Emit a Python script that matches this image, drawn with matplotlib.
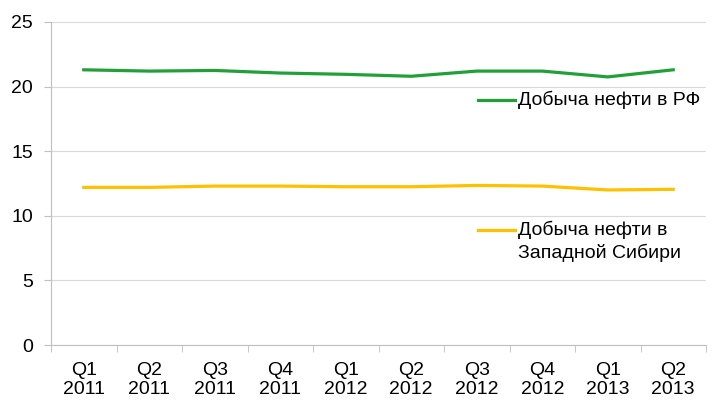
import numpy as np
import matplotlib.pyplot as plt

plt.rcParams['font.family'] = ['Liberation Sans', 'DejaVu Sans']

quarters = ['Q1\n2011', 'Q2\n2011', 'Q3\n2011', 'Q4\n2011', 'Q1\n2012',
            'Q2\n2012', 'Q3\n2012', 'Q4\n2012', 'Q1\n2013', 'Q2\n2013']
rf_oil = [21.3, 21.2, 21.25, 21.05, 20.95, 20.8, 21.2, 21.2, 20.75, 21.3]
wsib_oil = [12.2, 12.2, 12.3, 12.3, 12.25, 12.25, 12.35, 12.3, 12.0, 12.05]
yticks = [0, 5, 10, 15, 20, 25]

green = '#21A038'
yellow = '#FFC000'
grey = '#BFBFBF'

fig = plt.figure(figsize=(7.12, 4.01), dpi=100)
ax = fig.add_axes([51 / 712, 1 - 345 / 401, 655 / 712, 323 / 401])

x = np.arange(len(quarters))
ax.plot(x, rf_oil, color=green, lw=2.3, solid_joinstyle='round')
ax.plot(x, wsib_oil, color=yellow, lw=2.3, solid_joinstyle='round')

ax.set_xlim(-0.5, len(quarters) - 0.5)
ax.set_ylim(0, 25)
ax.set_yticks(yticks)
ax.set_xticks(x)
ax.set_xticklabels(quarters, fontsize=14, linespacing=1.2)
ax.set_xticks(np.arange(len(quarters) + 1) - 0.5, minor=True)
ax.tick_params(axis='x', which='major', length=0, pad=12)
ax.tick_params(axis='x', which='minor', length=5, color=grey)
ax.tick_params(axis='y', length=5, color=grey, labelsize=14, pad=8)

ax.grid(axis='y', color='#D9D9D9', lw=0.8)
ax.set_axisbelow(True)
for s in ['top', 'right']:
    ax.spines[s].set_visible(False)
for s in ['left', 'bottom']:
    ax.spines[s].set_color(grey)
    ax.spines[s].set_linewidth(0.8)

# legend drawn at the right, Excel style
def ay(py):
    return (345 - py) / 323

lx0, lx1, tx = (478 - 51) / 655, (515 - 51) / 655, (518 - 51) / 655
ax.plot([lx0, lx1], [ay(100)] * 2, color=green, lw=2.3,
        transform=ax.transAxes, clip_on=False)
ax.text(tx, ay(100), 'Добыча нефти в РФ', transform=ax.transAxes,
        fontsize=14, va='center', ha='left')
ax.plot([lx0, lx1], [ay(230)] * 2, color=yellow, lw=2.3,
        transform=ax.transAxes, clip_on=False)
ax.text(tx, ay(230), 'Добыча нефти в', transform=ax.transAxes,
        fontsize=14, va='center', ha='left')
ax.text(tx, ay(253), 'Западной Сибири', transform=ax.transAxes,
        fontsize=14, va='center', ha='left')

fig.savefig('out.png', dpi=100)
